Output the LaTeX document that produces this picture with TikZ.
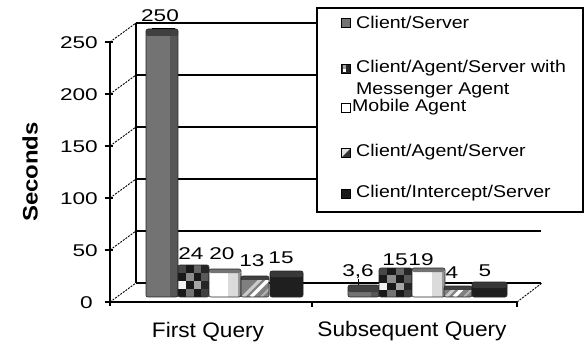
\documentclass[tikz,border=0pt]{standalone}
\usepackage{fontspec}
\setmainfont{Liberation Sans}
\newfontfamily\numfont[FakeStretch=1.33]{Liberation Sans}
\newfontfamily\txtfont[FakeStretch=1.15]{Liberation Sans}
\newfontfamily\catfont[FakeStretch=1.08]{Liberation Sans}
\newfontfamily\ttlfont[FakeStretch=1.14]{Liberation Sans}

% bar outline
\newcommand\baroutline[4]{\draw[black!85,line width=0.6pt,rounded corners=2pt] (#1,#3) rectangle (#2,#4);}
% Client/Server: plain grey cylinder
\newcommand\csbar[4]{%
  \fill[black!55] (#1,#3+3) rectangle (#2,#4);
  \fill[black!66] (#2-8,#3+3) rectangle (#2,#4);
  \fill[black!75,rounded corners=2pt] (#1,#3) rectangle (#2,#3+7);
  \baroutline{#1}{#2}{#3}{#4}}
% Client/Agent/Server with Messenger Agent: checkered cylinder
\newcommand\chkbar[4]{%
  \begin{scope}
    \clip[rounded corners=2pt] (#1,#3) rectangle (#2,#4);
    \begin{scope}[shift={(#1,#3)},xscale={(#2-#1)/4},yscale={(#4-#3)/4}]
      \foreach \c/\r/\g in {0/0/72,1/0/90,2/0/60,3/0/85,
                            0/1/90,1/1/45,2/1/90,3/1/65,
                            0/2/5,1/2/90,2/2/35,3/2/85,
                            0/3/90,1/3/55,2/3/90,3/3/75}
        \fill[black!\g] (\c,\r) rectangle ++(1,1);
    \end{scope}
  \end{scope}
  \baroutline{#1}{#2}{#3}{#4}}
% Mobile Agent: white cylinder
\newcommand\mobbar[4]{%
  \fill[white,rounded corners=2pt] (#1,#3) rectangle (#2,#4);
  \fill[black!14] (#2-13,#3+4) rectangle (#2-3,#4);
  \fill[black!40] (#2-3,#3+4) rectangle (#2,#4);
  \fill[black!55,rounded corners=2pt] (#1,#3) rectangle (#2,#3+4);
  \baroutline{#1}{#2}{#3}{#4}}
% Client/Agent/Server: striped cylinder
\newcommand\casbar[4]{%
  \begin{scope}
    \clip[rounded corners=2pt] (#1,#3) rectangle (#2,#4);
    \fill[black!50] (#1,#3) rectangle (#2,#4);
    \draw[black!20,line width=3pt] (#1+2,#4) -- ++(30,-30);
    \draw[white,line width=3.5pt] (#1+10,#4) -- ++(30,-30);
    \draw[black!30,line width=2pt] (#1+20,#4) -- ++(30,-30);
    \fill[black!75] (#1,#3) rectangle (#2,#3+4);
  \end{scope}
  \baroutline{#1}{#2}{#3}{#4}}
% Client/Intercept/Server: black cylinder
\newcommand\intbar[4]{%
  \fill[black!88,rounded corners=2pt] (#1,#3) rectangle (#2,#4);
  \fill[black!78,rounded corners=2pt] (#1,#3) rectangle (#2,#3+6);
  \baroutline{#1}{#2}{#3}{#4}}

\begin{document}
\begin{tikzpicture}[x=1pt,y=-1pt,
  ticklab/.style={font=\numfont\fontsize{17}{20}\selectfont,inner sep=0pt,anchor=east},
  val/.style={font=\numfont\fontsize{17}{20}\selectfont,inner sep=0pt},
  leg/.style={font=\txtfont\fontsize{17}{20}\selectfont,inner sep=0pt,anchor=west},
  cat/.style={font=\catfont\fontsize{21}{24}\selectfont,inner sep=0pt,anchor=base},
  gridline/.style={line width=1.1pt},
  depthline/.style={line width=0.9pt,dash pattern=on 2pt off 1.2pt},
  legsq/.style={draw=black,line width=0.7pt}]

\fill[white] (0,0) rectangle (586,345);
\useasboundingbox (0,0) rectangle (586,345);

% back wall grid, depth lines and axis ticks
\foreach \k in {0,...,5}{
  \pgfmathsetmacro\yb{283-52*\k}
  \pgfmathsetmacro\yf{302-52*\k}
  \draw[gridline] (136,\yb) -- (541,\yb);
  \draw[depthline] (110,\yf) -- (136,\yb);
  \draw[gridline] (105,\yf) -- (113,\yf);
}
\draw[gridline] (136,23) -- (136,283);
\draw[gridline] (110,42) -- (110,306);
\draw[gridline] (110,302) -- (517,302);
\draw[depthline] (517,302) -- (542,283);
\draw[gridline] (312,302) -- (312,307);
\draw[gridline] (517,302) -- (517,307);

% axis labels
\node[ticklab] (t250) at (98,43) {250};
\node[ticklab] (t200) at (98,95) {200};
\node[ticklab] (t150) at (98,147) {150};
\node[ticklab] (t100) at (98,199) {100};
\node[ticklab] (t50)  at (98,251) {50};
\node[ticklab] (t0)   at (93,303) {0};
\node[font=\ttlfont\bfseries\fontsize{21}{24}\selectfont,rotate=90,inner sep=0pt]
  (ytitle) at (30,172) {Seconds};
\node[cat] (cat1) at (208,337) {First Query};
\node[cat] (cat2) at (412,336) {Subsequent Query};

% first query
\csbar{146}{178}{29}{297}
\draw[line width=1pt] (152,28.5) -- (175,28.5);
\chkbar{178}{209}{265}{297}
\mobbar{209}{241}{269}{297}
\casbar{241}{269}{276}{297}
\intbar{270}{303}{271}{297}

% subsequent query
\csbar{348}{379}{285}{297}
\draw[line width=0.8pt] (358,279) -- (358,285);
\chkbar{379}{412}{268}{297}
\mobbar{412}{445}{268}{297}
\casbar{444}{472}{286}{297}
\intbar{472}{507}{282}{297}

% value labels
\node[val] (v1) at (160,16) {250};
\node[val] (v2) at (191,254) {24};
\node[val] (v3) at (222,254) {20};
\node[val] (v4) at (252,261) {13};
\node[val] (v5) at (281,258) {15};
\node[val] (w1) at (358,272) {3,6};
\node[val] (w2) at (395,260) {15};
\node[val] (w3) at (421,260) {19};
\node[val] (w4) at (452,273) {4};
\node[val] (w5) at (485,271) {5};

% legend
\draw[fill=white,line width=1.2pt] (317,8) rectangle (583,212);
\fill[black!55] (341,18) rectangle (350,27);
\draw[legsq] (341,18) rectangle (350,27);
\fill[black!85] (341,64) rectangle (350,73);
\fill[white] (342.5,69) rectangle (346,72);
\fill[black!35] (342.5,65.5) rectangle (346,69);
\draw[legsq] (341,64) rectangle (350,73);
\draw[legsq,fill=white] (341,103) rectangle (350,112);
\fill[black!12] (341,148) rectangle (350,157);
\fill[black!80] (350,149) -- (350,157) -- (342,157) -- cycle;
\draw[legsq] (341,148) rectangle (350,157);
\fill[black!90] (341,189) rectangle (350,198);
\draw[legsq] (341,189) rectangle (350,198);
\node[leg] (l1) at (356,22) {Client/Server};
\node[leg] (l2) at (356,68) {Client/Agent/Server with};
\node[leg] (l2b) at (356,90) {Messenger Agent};
\node[leg] (l3) at (352,107) {Mobile Agent};
\node[leg] (l4) at (356,152) {Client/Agent/Server};
\node[leg] (l5) at (356,193) {Client/Intercept/Server};
\end{tikzpicture}
\end{document}
